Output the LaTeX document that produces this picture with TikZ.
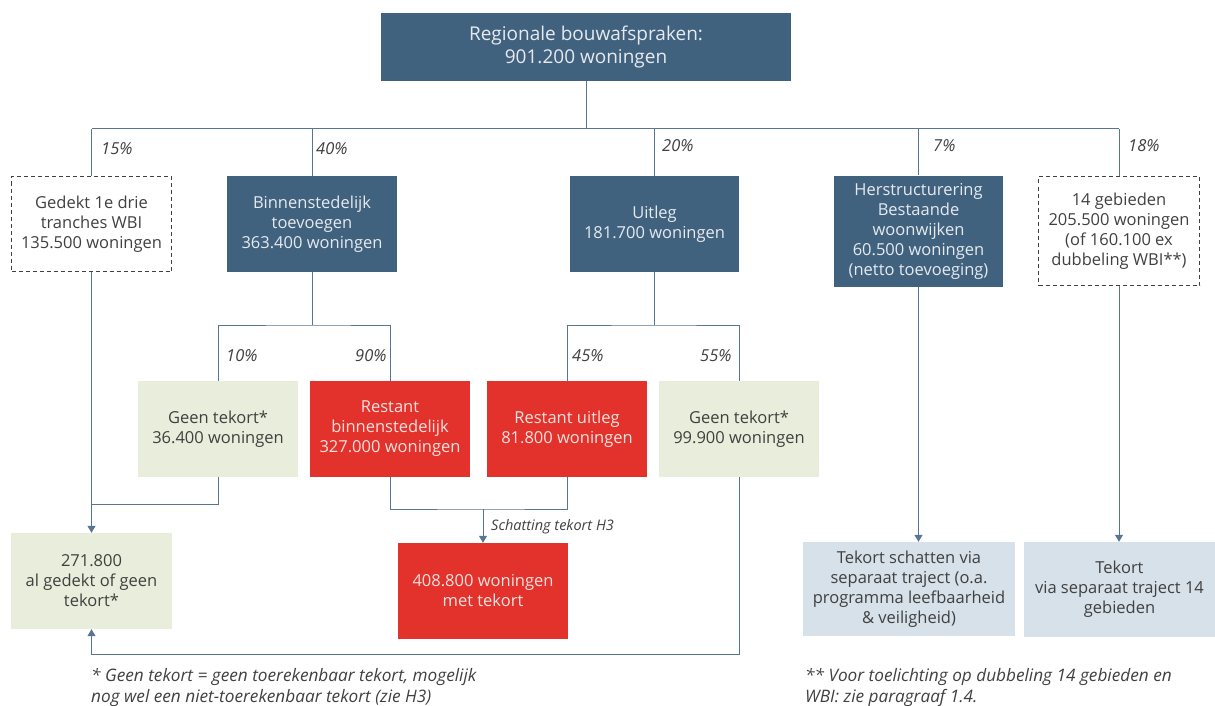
\documentclass[tikz,border=0pt]{standalone}
\usepackage{fontspec}
\setmainfont{Open Sans}
\usetikzlibrary{arrows.meta}
\definecolor{darkbox}{HTML}{41627F}
\definecolor{linec}{HTML}{587591}
\definecolor{redbox}{HTML}{E3322B}
\definecolor{greenbox}{HTML}{E9EDDB}
\definecolor{bluebox}{HTML}{D6E1E9}
\definecolor{txtdark}{HTML}{404040}
\definecolor{txtlight}{HTML}{E6EAEE}
\definecolor{txtred}{HTML}{F6E2E0}
\tikzset{
  box/.style={rectangle, inner sep=1pt, align=center, font=\fontsize{16.5}{20}\selectfont},
  darkb/.style={box, fill=darkbox, text=txtlight},
  redb/.style={box, fill=redbox, text=txtred},
  greenb/.style={box, fill=greenbox, text=txtdark},
  blueb/.style={box, fill=bluebox, text=txtdark},
  dashb/.style={box, draw=txtdark, dashed, dash pattern=on 4pt off 3pt, line width=0.9pt, text=txtdark},
  conn/.style={draw=linec, line width=1pt},
  arr/.style={conn, -{Triangle[width=8pt,length=7pt]}, color=linec},
  pct/.style={anchor=west, font=\fontsize{16.5}{18}\itshape, text=txtdark, inner sep=0pt},
  note/.style={anchor=west, align=left, font=\fontsize{17.2}{21}\itshape, text=txtdark, inner sep=0pt},
}
\begin{document}
\begin{tikzpicture}[x=1pt, y=-1pt]
\useasboundingbox (0,0) rectangle (1215,706);
% boxes
\node[darkb, minimum width=410pt, minimum height=68pt, font=\fontsize{19}{23}\selectfont] (top) at (586,47) {Regionale bouwafspraken:\\901.200 woningen};
\node[dashb, minimum width=160pt, minimum height=95pt] (gedekt) at (91.5,224) {Gedekt 1e drie\\tranches WBI\\135.500 woningen};
\node[darkb, minimum width=170pt, minimum height=96pt] (binnen) at (312,224) {Binnenstedelijk\\toevoegen\\363.400 woningen};
\node[darkb, minimum width=169pt, minimum height=96pt] (uitleg) at (654.5,224) {Uitleg\\181.700 woningen};
\node[darkb, minimum width=169pt, minimum height=111pt] (herstr) at (918.5,231) {Herstructurering\\Bestaande\\woonwijken\\60.500 woningen\\(netto toevoeging)};
\node[dashb, minimum width=161pt, minimum height=109pt] (gebieden) at (1119,231) {14 gebieden\\205.500 woningen\\(of 160.100 ex\\dubbeling WBI**)};
\node[greenb, minimum width=160pt, minimum height=96pt] (geen1) at (218,429) {Geen tekort*\\36.400 woningen};
\node[redb, minimum width=160pt, minimum height=96pt] (restb) at (390,429) {Restant\\binnenstedelijk\\327.000 woningen};
\node[redb, minimum width=160pt, minimum height=96pt] (restu) at (567,429) {Restant uitleg\\81.800 woningen};
\node[greenb, minimum width=160pt, minimum height=96pt] (geen2) at (739,429) {Geen tekort*\\99.900 woningen};
\node[greenb, minimum width=161pt, minimum height=96pt] (total) at (91.5,581) {271.800\\al gedekt of geen\\tekort*};
\node[redb, minimum width=170pt, minimum height=96pt] (t408) at (483,591) {408.800 woningen\\met tekort};
\node[blueb, minimum width=212pt, minimum height=94pt] (tschat) at (909,589) {Tekort schatten via\\separaat traject (o.a.\\programma leefbaarheid\\\& veiligheid)};
\node[blueb, minimum width=191pt, minimum height=95pt] (t14) at (1119.5,589.5) {Tekort\\via separaat traject 14\\gebieden};
% bus
\coordinate (busL) at (91.5,129);
\coordinate (busR) at (1119,129);
\draw[conn] (top.south) -- (top.south |- busL);
\draw[conn] (busL) -- (busR);
\draw[conn] (busL) -- (gedekt.north);
\draw[conn] (binnen.north |- busL) -- (binnen.north);
\draw[conn] (uitleg.north |- busL) -- (uitleg.north);
\draw[conn] (herstr.north |- busL) -- (herstr.north);
\draw[conn] (busR) -- (gebieden.north);
\node[pct] (p15) at (101,149) {15\%};
\node[pct] (p40) at (316,149) {40\%};
\node[pct] (p20) at (662,146) {20\%};
\node[pct] (p7) at (933,146) {7\%};
\node[pct] (p18) at (1128,146) {18\%};
% split binnen
\coordinate (sb) at (312,325);
\draw[conn] (binnen.south) -- (sb);
\draw[conn] (geen1.north) |- (sb) -| (restb.north);
\node[pct] (p10) at (226,356) {10\%};
\node[pct] (p90) at (355,356) {90\%};
% split uitleg
\coordinate (su) at (654.5,325);
\draw[conn] (uitleg.south) -- (su);
\draw[conn] (restu.north) |- (su) -| (geen2.north);
\node[pct] (p45) at (572,356) {45\%};
\node[pct] (p55) at (700,356) {55\%};
% left collection
\draw[arr] (gedekt.south) -- (total.north);
\coordinate (j1) at (91.5,504);
\draw[conn] (geen1.south) |- (j1);
% red merge
\coordinate (j2) at (483,509);
\draw[conn] (restb.south) |- (j2) -| (restu.south);
\draw[arr] (j2) -- (t408.north);
\node[anchor=west, font=\fontsize{14.5}{16}\itshape, text=txtdark, inner sep=0pt] (schat) at (491,527) {Schatting tekort H3};
% loop back
\coordinate (j3) at (739,654);
\draw[arr] (geen2.south) |- (j3) -| (total.south);
% right
\draw[arr] (herstr.south) -- (herstr.south |- tschat.north);
\draw[arr] (gebieden.south) -- (gebieden.south |- t14.north);
% notes
\node[note] (n1) at (91,687) {* Geen tekort = geen toerekenbaar tekort, mogelijk\\nog wel een niet-toerekenbaar tekort (zie H3)};
\node[note] (n2) at (805,687) {** Voor toelichting op dubbeling 14 gebieden en\\WBI: zie paragraaf 1.4.};
\end{tikzpicture}
\end{document}
